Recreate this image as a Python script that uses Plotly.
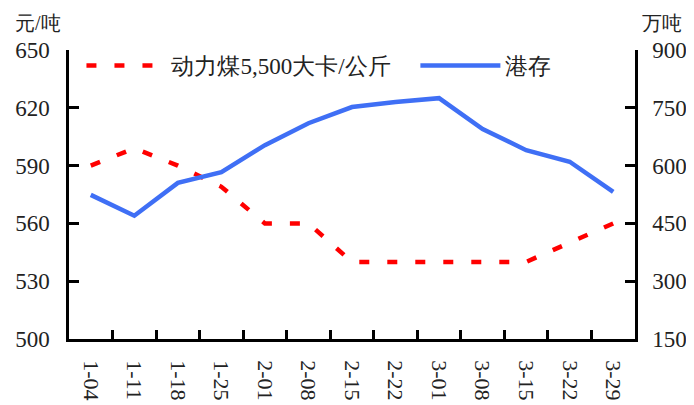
import plotly.graph_objects as go

categories = ["1-04", "1-11", "1-18", "1-25", "2-01", "2-08", "2-15",
              "2-22", "3-01", "3-08", "3-15", "3-22", "3-29"]
coal_price = [590, 599, 590, 579, 560, 560, 540, 540, 540, 540, 540, 550, 560]
port_stock = [524, 470, 555, 583, 653, 710, 752, 765, 775, 695, 640, 610, 532]

name_price = "动力煤5,500大卡/公斤"
name_stock = "港存"

FONT = "Liberation Serif"
TXT = "#222222"

fig = go.Figure()
fig.add_trace(go.Scatter(
    x=categories, y=coal_price, name=name_price, mode="lines",
    line=dict(color="#FF0000", width=4.5, dash="10px,18px"),
    yaxis="y", legend="legend"))
fig.add_trace(go.Scatter(
    x=categories, y=port_stock, name=name_stock, mode="lines",
    line=dict(color="#3F6FF5", width=4.5),
    yaxis="y2", legend="legend2"))

axis_common = dict(showgrid=False, zeroline=False, showline=True, automargin=False,
                   linecolor="black", linewidth=2.5, ticks="inside",
                   tickcolor="black", tickwidth=2.5, ticklen=10,
                   tickfont=dict(family=FONT, size=23, color=TXT))

legend_common = dict(orientation="h", y=1.021, xanchor="left", yanchor="top",
                     bgcolor="rgba(0,0,0,0)",
                     font=dict(family=FONT, size=23, color=TXT),
                     itemwidth=80, itemclick=False, itemdoubleclick=False)

fig.update_layout(
    width=694, height=405,
    margin=dict(l=61, r=67, t=42, b=74, autoexpand=False),
    paper_bgcolor="white", plot_bgcolor="white",
    font=dict(family=FONT, color=TXT),
    showlegend=True,
    legend=dict(x=0.022, **legend_common),
    legend2=dict(x=0.612, **legend_common),
    xaxis=dict(type="category", range=[-0.5, 12.5], tickson="boundaries",
               tickangle=90, ticklabelstandoff=14,
               **{**axis_common, "ticklen": 9,
                  "tickfont": dict(family=FONT, size=22, color=TXT)}),
    yaxis=dict(range=[500, 650], dtick=30, tick0=500, side="left",
               ticklabelstandoff=12, **axis_common),
    yaxis2=dict(range=[150, 900], dtick=150, tick0=150, side="right",
                overlaying="y", ticklabelstandoff=10, **axis_common),
    annotations=[
        dict(text="元/吨", xref="paper", yref="paper", x=-0.055, y=1.093,
             xanchor="center", yanchor="middle", showarrow=False,
             font=dict(family=FONT, size=20, color=TXT)),
        dict(text="万吨", xref="paper", yref="paper", x=1.048, y=1.093,
             xanchor="center", yanchor="middle", showarrow=False,
             font=dict(family=FONT, size=20, color=TXT)),
    ],
)

fig.write_html("out.html")
